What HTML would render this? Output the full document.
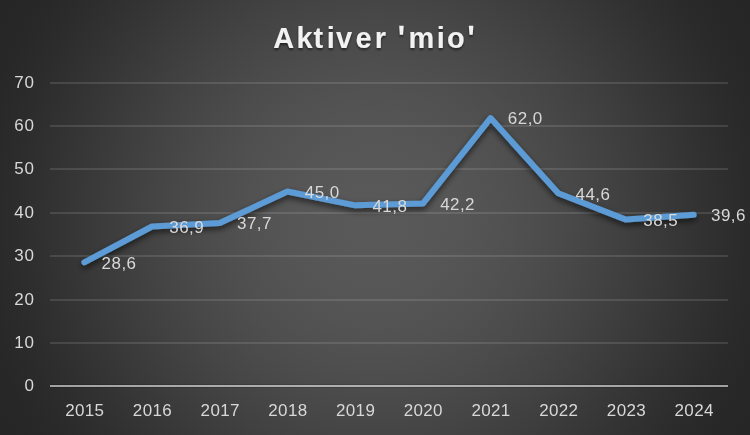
<!DOCTYPE html>
<html><head><meta charset="utf-8"><title>Aktiver 'mio'</title>
<style>
html,body{margin:0;padding:0;background:#262626;}
body{width:750px;height:435px;overflow:hidden;font-family:"Liberation Sans",sans-serif;}
#chart{position:relative;width:750px;height:435px;background:radial-gradient(circle farthest-corner at 50% 50%,rgb(89.00,89.00,89.00) 0.0%,rgb(88.94,88.94,88.94) 2.5%,rgb(88.75,88.75,88.75) 5.0%,rgb(88.44,88.44,88.44) 7.5%,rgb(88.02,88.02,88.02) 10.0%,rgb(87.50,87.50,87.50) 12.5%,rgb(86.87,86.87,86.87) 15.0%,rgb(86.14,86.14,86.14) 17.5%,rgb(85.31,85.31,85.31) 20.0%,rgb(84.39,84.39,84.39) 22.5%,rgb(83.38,83.38,83.38) 25.0%,rgb(82.29,82.29,82.29) 27.5%,rgb(81.11,81.11,81.11) 30.0%,rgb(79.85,79.85,79.85) 32.5%,rgb(78.52,78.52,78.52) 35.0%,rgb(77.11,77.11,77.11) 37.5%,rgb(75.63,75.63,75.63) 40.0%,rgb(74.08,74.08,74.08) 42.5%,rgb(72.47,72.47,72.47) 45.0%,rgb(70.80,70.80,70.80) 47.5%,rgb(69.08,69.08,69.08) 50.0%,rgb(67.30,67.30,67.30) 52.5%,rgb(65.47,65.47,65.47) 55.0%,rgb(63.61,63.61,63.61) 57.5%,rgb(61.70,61.70,61.70) 60.0%,rgb(59.78,59.78,59.78) 62.5%,rgb(57.83,57.83,57.83) 65.0%,rgb(55.87,55.87,55.87) 67.5%,rgb(53.91,53.91,53.91) 70.0%,rgb(51.97,51.97,51.97) 72.5%,rgb(50.06,50.06,50.06) 75.0%,rgb(48.19,48.19,48.19) 77.5%,rgb(46.40,46.40,46.40) 80.0%,rgb(44.69,44.69,44.69) 82.5%,rgb(43.11,43.11,43.11) 85.0%,rgb(41.68,41.68,41.68) 87.5%,rgb(40.44,40.44,40.44) 90.0%,rgb(39.42,39.42,39.42) 92.5%,rgb(38.65,38.65,38.65) 95.0%,rgb(38.17,38.17,38.17) 97.5%,rgb(38.00,38.00,38.00) 100.0%);}
svg{position:absolute;left:0;top:0;}
svg text{font-family:"Liberation Sans",sans-serif;font-size:17px;fill:#d9d9d9;}
svg #ttl text{font-size:29px;font-weight:bold;fill:#f2f2f2;}
</style></head><body>
<div id="chart">
<svg width="750" height="435" viewBox="0 0 750 435">
<defs>
<filter id="sh" x="-10%" y="-30%" width="120%" height="160%"><feGaussianBlur in="SourceAlpha" stdDeviation="3"/><feOffset dx="0" dy="3" result="b"/><feComponentTransfer><feFuncA type="linear" slope="0.63"/></feComponentTransfer><feMerge><feMergeNode/><feMergeNode in="SourceGraphic"/></feMerge></filter>
<filter id="ts" x="-10%" y="-30%" width="120%" height="180%"><feGaussianBlur in="SourceAlpha" stdDeviation="1"/><feOffset dx="0" dy="2"/><feComponentTransfer><feFuncA type="linear" slope="0.5"/></feComponentTransfer><feMerge><feMergeNode/><feMergeNode in="SourceGraphic"/></feMerge></filter>
</defs>
<g stroke="rgba(242,242,242,0.125)" stroke-width="2"><line x1="50.0" x2="728.0" y1="343" y2="343"/><line x1="50.0" x2="728.0" y1="300" y2="300"/><line x1="50.0" x2="728.0" y1="256" y2="256"/><line x1="50.0" x2="728.0" y1="213" y2="213"/><line x1="50.0" x2="728.0" y1="169" y2="169"/><line x1="50.0" x2="728.0" y1="126" y2="126"/><line x1="50.0" x2="728.0" y1="83" y2="83"/></g>
<line x1="50.0" x2="728.0" y1="386" y2="386" stroke="rgba(242,242,242,0.60)" stroke-width="2"/>
<g stroke="rgba(0,0,0,0.14)" stroke-width="1"><line x1="50.0" x2="728.0" y1="384.5" y2="384.5"/><line x1="50.0" x2="728.0" y1="387.5" y2="387.5"/></g>
<path d="M84.30 262.35 L152.01 226.49 L219.72 223.04 L287.43 191.50 L355.14 205.32 L422.85 203.60 L490.56 118.06 L558.27 193.23 L625.98 219.58 L693.69 214.83" fill="none" stroke="#5b9bd5" stroke-width="6" stroke-linecap="round" stroke-linejoin="round" filter="url(#sh)"/>
<g id="lbl" style="opacity:0.999"><g style="letter-spacing:0.8px"><text transform="translate(34.80,391.00) scale(1,0.96)" text-anchor="end">0</text><text transform="translate(34.80,348.00) scale(1,0.96)" text-anchor="end">10</text><text transform="translate(34.80,305.00) scale(1,0.96)" text-anchor="end">20</text><text transform="translate(34.80,261.00) scale(1,0.96)" text-anchor="end">30</text><text transform="translate(34.80,218.00) scale(1,0.96)" text-anchor="end">40</text><text transform="translate(34.80,174.00) scale(1,0.96)" text-anchor="end">50</text><text transform="translate(34.80,131.00) scale(1,0.96)" text-anchor="end">60</text><text transform="translate(34.80,88.00) scale(1,0.96)" text-anchor="end">70</text></g><g style="letter-spacing:0.35px"><text transform="translate(84.77,415.80) scale(1,0.96)" text-anchor="middle">2015</text><text transform="translate(152.48,415.80) scale(1,0.96)" text-anchor="middle">2016</text><text transform="translate(220.19,415.80) scale(1,0.96)" text-anchor="middle">2017</text><text transform="translate(287.90,415.80) scale(1,0.96)" text-anchor="middle">2018</text><text transform="translate(355.61,415.80) scale(1,0.96)" text-anchor="middle">2019</text><text transform="translate(423.32,415.80) scale(1,0.96)" text-anchor="middle">2020</text><text transform="translate(491.03,415.80) scale(1,0.96)" text-anchor="middle">2021</text><text transform="translate(558.74,415.80) scale(1,0.96)" text-anchor="middle">2022</text><text transform="translate(626.45,415.80) scale(1,0.96)" text-anchor="middle">2023</text><text transform="translate(694.16,415.80) scale(1,0.96)" text-anchor="middle">2024</text></g><g style="letter-spacing:0.45px"><text transform="translate(101.60,268.75) scale(1,0.96)" text-anchor="start">28,6</text><text transform="translate(169.31,232.89) scale(1,0.96)" text-anchor="start">36,9</text><text transform="translate(237.02,229.44) scale(1,0.96)" text-anchor="start">37,7</text><text transform="translate(304.73,197.90) scale(1,0.96)" text-anchor="start">45,0</text><text transform="translate(372.44,211.72) scale(1,0.96)" text-anchor="start">41,8</text><text transform="translate(440.15,210.00) scale(1,0.96)" text-anchor="start">42,2</text><text transform="translate(507.86,124.46) scale(1,0.96)" text-anchor="start">62,0</text><text transform="translate(575.57,199.63) scale(1,0.96)" text-anchor="start">44,6</text><text transform="translate(643.28,225.98) scale(1,0.96)" text-anchor="start">38,5</text><text transform="translate(710.99,221.23) scale(1,0.96)" text-anchor="start">39,6</text></g></g>
<g id="ttl" filter="url(#ts)"><text x="283.70" y="47.5" text-anchor="middle">A</text><text x="304.45" y="47.5" text-anchor="middle">k</text><text x="318.35" y="47.5" text-anchor="middle">t</text><text x="330.90" y="47.5" text-anchor="middle">i</text><text x="344.15" y="47.5" text-anchor="middle">v</text><text x="363.60" y="47.5" text-anchor="middle">e</text><text x="380.30" y="47.5" text-anchor="middle">r</text><text x="421.30" y="47.5" text-anchor="middle">m</text><text x="440.90" y="47.5" text-anchor="middle">i</text><text x="455.75" y="47.5" text-anchor="middle">o</text><polygon fill="#f2f2f2" points="399.20,25.8 403.70,25.8 403.00,34.7 399.90,34.7"/><polygon fill="#f2f2f2" points="468.85,25.8 473.35,25.8 472.65,34.7 469.55,34.7"/></g>
</svg>
</div>
</body></html>
